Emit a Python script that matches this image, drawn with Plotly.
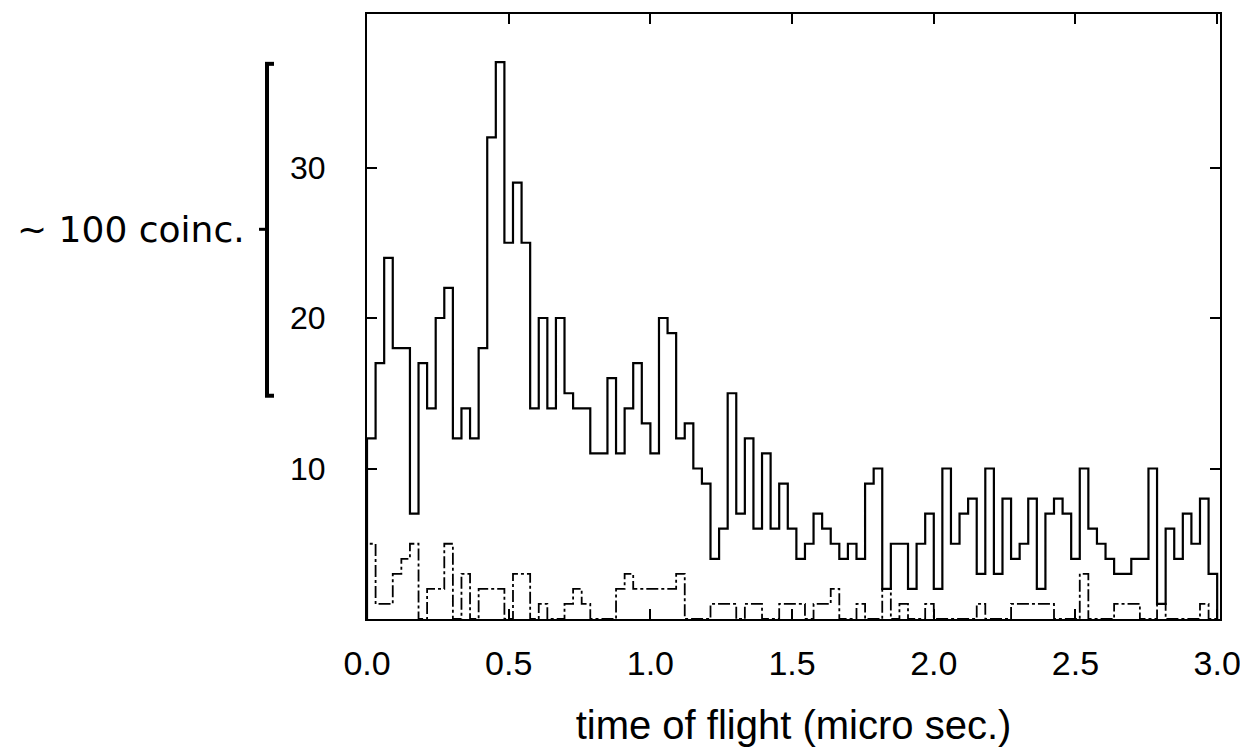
import plotly.graph_objects as go

# ---------------- data ----------------
bin_width = 3.0 / 99  # micro sec per bin

solid_counts = [12, 17, 24, 18, 18, 7, 17, 14, 20, 22,
                12, 14, 12, 18, 32, 37, 25, 29, 25, 14,
                20, 14, 20, 15, 14, 14, 11, 11, 16, 11,
                14, 17, 13, 11, 20, 19, 12, 13, 10, 9,
                4, 6, 15, 7, 12, 6, 11, 6, 9, 6,
                4, 5, 7, 6, 5, 4, 5, 4, 9, 10,
                2, 5, 5, 2, 5, 7, 2, 10, 5, 7,
                8, 3, 10, 3, 8, 4, 5, 8, 2, 7,
                8, 7, 4, 10, 6, 5, 4, 3, 3, 4,
                4, 10, 1, 6, 4, 7, 5, 8, 3]

dashed_counts = [5, 1, 1, 3, 4, 5, 0, 2, 2, 5,
                 0, 3, 0, 2, 2, 2, 0, 3, 3, 0,
                 1, 0, 0, 1, 2, 1, 0, 0, 0, 2,
                 3, 2, 2, 2, 2, 2, 3, 0, 0, 0,
                 1, 1, 1, 0, 1, 1, 0, 0, 1, 1,
                 1, 0, 1, 1, 2, 0, 0, 1, 0, 0,
                 2, 0, 1, 0, 0, 1, 0, 0, 0, 0,
                 0, 1, 0, 0, 0, 1, 1, 1, 1, 1,
                 0, 0, 0, 3, 0, 0, 0, 1, 1, 1,
                 0, 0, 1, 0, 0, 0, 0, 1, 0]

x_tick_vals = [0.0, 0.5, 1.0, 1.5, 2.0, 2.5, 3.0]
x_tick_text = ["0.0", "0.5", "1.0", "1.5", "2.0", "2.5", "3.0"]
y_tick_vals = [10, 20, 30]
y_tick_text = ["10", "20", "30"]

x_title = "time of flight (micro sec.)"
bracket_label = "~ 100 coinc."

# ---------------- layout geometry ----------------
# the HTML body adds an 8 px margin around the figure
OFF = 8
W, H = 1240, 743
L, R, T, B = 359, 28, 4, 132
X_MAX = 3.01
Y_MAX = 40.2


def step_xy(counts):
    n = len(counts)
    edges = [i * bin_width for i in range(n + 1)]
    xs = [edges[0]] + edges[:n] + [edges[n], edges[n]]
    ys = [0] + list(counts) + [counts[-1], 0]
    return xs, ys


def px(xp):
    # page pixel -> paper x
    return (xp - OFF - L) / (W - L - R)


def py(yp):
    # page pixel -> paper y
    return (H - B - (yp - OFF)) / (H - B - T)


fig = go.Figure()

xs, ys = step_xy(dashed_counts)
fig.add_trace(go.Scatter(x=xs, y=ys, mode="lines", line_shape="hv",
                         line=dict(color="black", width=1.8, dash="12px,3px,3px,3px"),
                         showlegend=False, hoverinfo="skip"))

xs, ys = step_xy(solid_counts)
fig.add_trace(go.Scatter(x=xs, y=ys, mode="lines", line_shape="hv",
                         line=dict(color="black", width=2.2),
                         showlegend=False, hoverinfo="skip"))

sans = "Liberation Sans, Arial, sans-serif"

fig.update_layout(
    width=W, height=H,
    margin=dict(l=L, r=R, t=T, b=B, pad=0),
    paper_bgcolor="white", plot_bgcolor="white",
    xaxis=dict(range=[0, X_MAX], tickvals=x_tick_vals, ticktext=x_tick_text,
               ticks="inside", ticklen=10, tickwidth=1.5, tickcolor="black",
               mirror="ticks", showline=True, linecolor="black", linewidth=2,
               showgrid=False, zeroline=False,
               tickfont=dict(family=sans, size=34, color="black"),
               ticklabelstandoff=13,
               title=dict(text=x_title, font=dict(family=sans, size=40, color="black"),
                          standoff=30)),
    yaxis=dict(range=[0, Y_MAX], tickvals=y_tick_vals, ticktext=y_tick_text,
               ticks="inside", ticklen=10, tickwidth=1.5, tickcolor="black",
               mirror="ticks", showline=True, linecolor="black", linewidth=2,
               showgrid=False, zeroline=False,
               tickfont=dict(family=sans, size=32, color="black"),
               ticklabelstandoff=33),
)

# bracket on the left
bx, btop, bbot, bmid = 267, 62, 395, 228
shape_line = dict(color="black", width=4)
fig.add_shape(type="line", xref="paper", yref="paper",
              x0=px(bx), x1=px(bx), y0=py(btop), y1=py(bbot), line=shape_line)
fig.add_shape(type="line", xref="paper", yref="paper",
              x0=px(bx - 2), x1=px(bx + 7), y0=py(btop), y1=py(btop), line=shape_line)
fig.add_shape(type="line", xref="paper", yref="paper",
              x0=px(bx - 2), x1=px(bx + 7), y0=py(bbot), y1=py(bbot), line=shape_line)
fig.add_shape(type="line", xref="paper", yref="paper",
              x0=px(bx - 8), x1=px(bx), y0=py(bmid), y1=py(bmid),
              line=dict(color="black", width=3))

fig.add_annotation(text=bracket_label, xref="paper", yref="paper",
                   x=px(247), y=py(bmid), xanchor="right", yanchor="middle",
                   showarrow=False,
                   font=dict(family="DejaVu Sans, sans-serif", size=36, color="black"))

fig.write_html("out.html")
